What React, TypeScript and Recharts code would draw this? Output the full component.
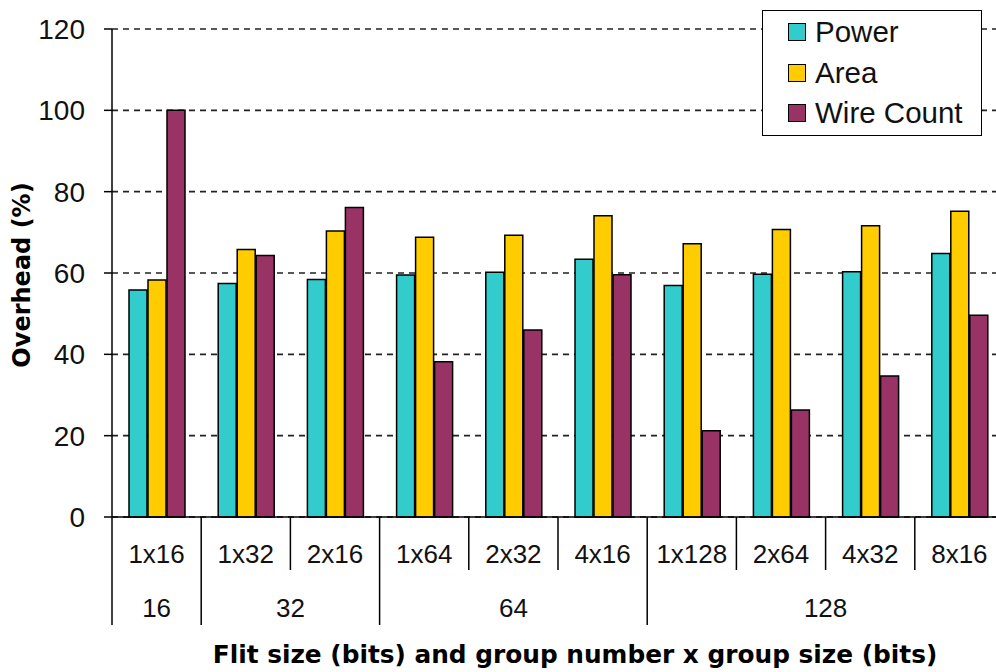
import { BarChart, Bar, XAxis, YAxis, CartesianGrid, Legend } from 'recharts';

const FONT = "'Liberation Sans', Arial, sans-serif";
const BOLD_FONT = "'DejaVu Sans', Verdana, sans-serif";

const configs = ['1x16', '1x32', '2x16', '1x64', '2x32', '4x16', '1x128', '2x64', '4x32', '8x16'];
const flitSizes = ['16', '32', '32', '64', '64', '64', '128', '128', '128', '128'];
const power = [55.8, 57.4, 58.4, 59.5, 60.2, 63.4, 56.9, 59.7, 60.3, 64.8];
const area = [58.3, 65.8, 70.3, 68.8, 69.3, 74.1, 67.2, 70.7, 71.6, 75.2];
const wireCount = [100, 64.3, 76.1, 38.2, 46, 59.6, 21.2, 26.3, 34.7, 49.6];
const yTicks = [0, 20, 40, 60, 80, 100, 120];
const seriesOrder = ['Power', 'Area', 'Wire Count'];

const data = configs.map((cfg, i) => ({
  cfg,
  flit: flitSizes[i],
  power: power[i],
  area: area[i],
  wire: wireCount[i],
}));

// first row: config labels + separators between categories
const ConfigTick = (props: any) => {
  const { x, y, payload } = props;
  const half = payload.offset || 44.6;
  return (
    <g>
      <line x1={x - half} x2={x - half} y1={y} y2={y + 53} stroke="#000" strokeWidth={1.5} />
      <text x={x} y={y + 46} textAnchor="middle" fontSize={26} fontFamily={FONT} fill="#111">
        {payload.value}
      </text>
    </g>
  );
};

// second row: flit size groups
const GroupTick = (props: any) => {
  const { x, y, payload, index } = props;
  const half = payload.offset || 44.6;
  if (index > 0 && flitSizes[index] === flitSizes[index - 1]) return <g />;
  let n = 1;
  while (index + n < flitSizes.length && flitSizes[index + n] === flitSizes[index]) n++;
  const left = x - half;
  return (
    <g>
      <line x1={left} x2={left} y1={y} y2={y + 55} stroke="#000" strokeWidth={1.5} />
      <text x={left + n * half} y={y + 47} textAnchor="middle" fontSize={26} fontFamily={FONT} fill="#111">
        {flitSizes[index]}
      </text>
    </g>
  );
};

const LegendBox = (props: any) => {
  const items = [...(props.payload || [])].sort(
    (a: any, b: any) => seriesOrder.indexOf(a.value) - seriesOrder.indexOf(b.value)
  );
  return (
    <div
      style={{
        width: 218,
        height: 124,
        border: '1.5px solid #000',
        background: '#fff',
        fontFamily: FONT,
        fontSize: 29.5,
        color: '#111',
        boxSizing: 'content-box',
      }}
    >
      {items.map((p: any, i: number) => (
        <div key={p.value} style={{ display: 'flex', alignItems: 'center', height: 40.5, marginTop: i === 0 ? 1 : 0 }}>
          <span
            style={{
              display: 'inline-block',
              width: 16,
              height: 16,
              marginLeft: 25,
              marginRight: 9,
              background: p.color,
              border: '1.5px solid #000',
            }}
          />
          <span>{p.value}</span>
        </div>
      ))}
    </div>
  );
};

export default function App() {
  return (
    <div style={{ width: 996, height: 672, background: '#fff' }}>
      <style>{'body{margin:0}'}</style>
      <BarChart
        width={996}
        height={672}
        data={data}
        margin={{ top: 29, right: -8, bottom: 0, left: 0 }}
        barSize={18}
        barGap={1}
      >
        <CartesianGrid vertical={false} stroke="#222" strokeDasharray="6 5" strokeWidth={1.6} />
        <XAxis
          dataKey="cfg"
          interval={0}
          height={53}
          tickSize={0}
          tickMargin={0}
          tickLine={false}
          tick={<ConfigTick />}
          axisLine={{ stroke: '#000', strokeWidth: 1.5 }}
        />
        <XAxis
          xAxisId="grp"
          dataKey="cfg"
          interval={0}
          height={102}
          tickSize={0}
          tickMargin={0}
          tickLine={false}
          axisLine={false}
          tick={<GroupTick />}
          label={() => (
            <text x={575} y={663} textAnchor="middle" fontSize={24.8} fontWeight="bold" fontFamily={BOLD_FONT} fill="#000">
              Flit size (bits) and group number x group size (bits)
            </text>
          )}
        />
        <YAxis
          width={112}
          domain={[0, 120]}
          ticks={yTicks}
          tickSize={8}
          tickMargin={19}
          tick={{ fontSize: 28, fontFamily: FONT, fill: '#111' }}
          tickLine={{ stroke: '#000', strokeWidth: 1.5 }}
          axisLine={{ stroke: '#000', strokeWidth: 1.5 }}
          label={() => (
            <text
              x={22}
              y={275}
              transform="rotate(-90 22 275)"
              textAnchor="middle"
              dominantBaseline="central"
              fontSize={24}
              fontWeight="bold"
              fontFamily={BOLD_FONT}
              fill="#000"
            >
              Overhead (%)
            </text>
          )}
        />
        <Legend
          layout="vertical"
          align="center"
          verticalAlign="middle"
          wrapperStyle={{ top: 10, left: 762, width: 'auto' }}
          content={<LegendBox />}
        />
        <Bar dataKey="power" name="Power" fill="#33CCCC" stroke="#000" strokeWidth={1.5} isAnimationActive={false} />
        <Bar dataKey="area" name="Area" fill="#FFCC00" stroke="#000" strokeWidth={1.5} isAnimationActive={false} />
        <Bar dataKey="wire" name="Wire Count" fill="#993366" stroke="#000" strokeWidth={1.5} isAnimationActive={false} />
      </BarChart>
    </div>
  );
}
